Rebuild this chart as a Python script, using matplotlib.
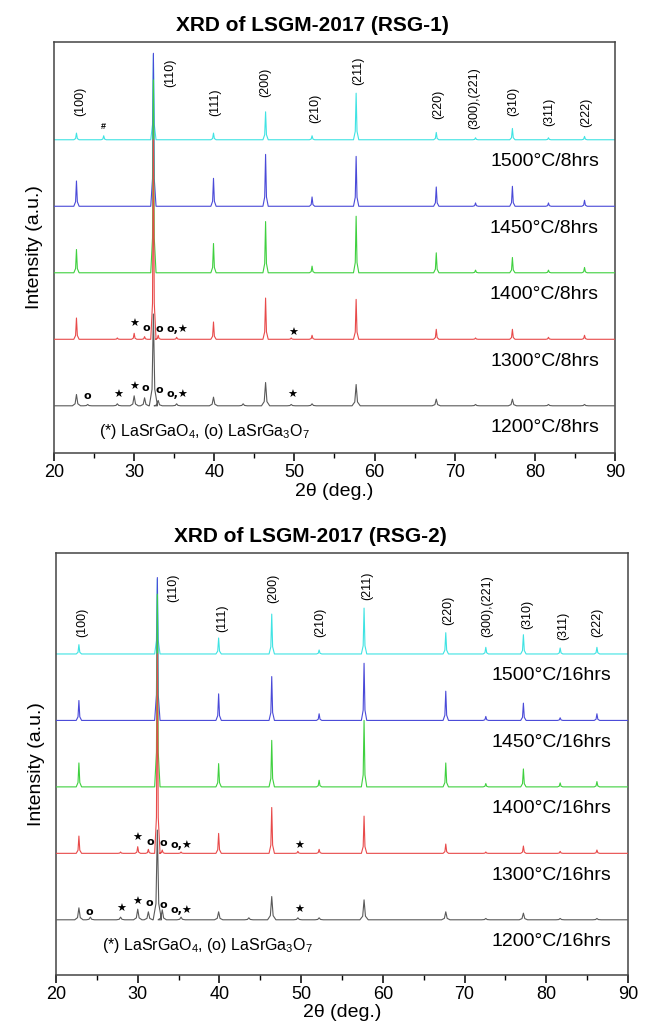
import numpy as np
import matplotlib.pyplot as plt
from matplotlib.ticker import MultipleLocator

plt.rcParams['font.family'] = ['Liberation Sans', 'DejaVu Sans']
plt.rcParams['mathtext.fontset'] = 'custom'
plt.rcParams['mathtext.rm'] = 'Liberation Sans'
plt.rcParams['mathtext.it'] = 'Liberation Sans:italic'

# perovskite reflections, 2theta in degrees
hkl_pos = [22.8, 32.4, 39.9, 46.4, 52.2, 57.7, 67.7, 72.6, 77.2, 81.7, 86.2]
hkl_labels = ['(100)', '(110)', '(111)', '(200)', '(210)', '(211)', '(220)',
              '(300),(221)', '(310)', '(311)', '(222)']

# secondary phase peaks (LaSrGa3O7, #, LaSrGaO4 ...)
imp_pos = [24.2, 26.2, 27.9, 30.0, 31.3, 33.0, 35.3, 43.6, 49.6]

colors = ['#3fe3e3', '#4a4ad8', '#3fd03f', '#e84a4a', '#5a5a5a']

# RSG-1, 8 hrs : peak heights (a.u., 1 = spacing between patterns)
labels_8h = ['1500°C/8hrs', '1450°C/8hrs', '1400°C/8hrs', '1300°C/8hrs', '1200°C/8hrs']
main_1500_8h = [0.10, 1.28, 0.10, 0.42, 0.06, 0.70, 0.11, 0.03, 0.17, 0.03, 0.05]
main_1450_8h = [0.38, 2.30, 0.42, 0.78, 0.14, 0.75, 0.29, 0.05, 0.30, 0.05, 0.09]
main_1400_8h = [0.35, 2.90, 0.44, 0.77, 0.10, 0.85, 0.30, 0.04, 0.23, 0.04, 0.08]
main_1300_8h = [0.32, 3.00, 0.26, 0.62, 0.06, 0.60, 0.15, 0.02, 0.15, 0.03, 0.06]
main_1200_8h = [0.17, 1.38, 0.13, 0.35, 0.03, 0.32, 0.10, 0.02, 0.10, 0.02, 0.02]
imp_1500_8h = [0.00, 0.06, 0.00, 0.00, 0.00, 0.00, 0.00, 0.00, 0.00]
imp_1300_8h = [0.00, 0.00, 0.02, 0.09, 0.04, 0.06, 0.03, 0.00, 0.02]
imp_1200_8h = [0.02, 0.00, 0.03, 0.15, 0.12, 0.08, 0.03, 0.03, 0.02]

# RSG-2, 16 hrs
labels_16h = ['1500°C/16hrs', '1450°C/16hrs', '1400°C/16hrs', '1300°C/16hrs', '1200°C/16hrs']
main_1500_16h = [0.14, 1.13, 0.24, 0.60, 0.06, 0.69, 0.32, 0.10, 0.29, 0.09, 0.10]
main_1450_16h = [0.30, 2.15, 0.40, 0.66, 0.10, 0.86, 0.44, 0.06, 0.26, 0.04, 0.10]
main_1400_16h = [0.36, 2.90, 0.35, 0.70, 0.10, 1.00, 0.36, 0.05, 0.27, 0.06, 0.08]
main_1300_16h = [0.26, 3.00, 0.30, 0.69, 0.06, 0.56, 0.14, 0.02, 0.11, 0.03, 0.05]
main_1200_16h = [0.18, 1.35, 0.12, 0.35, 0.03, 0.30, 0.12, 0.02, 0.10, 0.02, 0.02]
imp_1300_16h = [0.00, 0.00, 0.02, 0.10, 0.06, 0.05, 0.02, 0.00, 0.03]
imp_1200_16h = [0.04, 0.00, 0.04, 0.16, 0.12, 0.15, 0.04, 0.03, 0.03]
zero_imp = [0.0] * len(imp_pos)

# phase markers above the two lowest patterns
mark_gray = ['o', '★', '★', 'o', 'o', 'o,★', '★']
mark_gray_x = [24.1, 28.0, 30.0, 31.4, 33.1, 35.4, 49.75]
mark_gray_y1 = [0.14, 0.17, 0.29, 0.27, 0.23, 0.17, 0.17]
mark_gray_y2 = [0.12, 0.17, 0.27, 0.26, 0.23, 0.15, 0.15]
mark_red = ['★', 'o', 'o', 'o,★', '★']
mark_red_x = [30.0, 31.5, 33.1, 35.4, 49.8]
mark_red_y1 = [0.23, 0.17, 0.15, 0.15, 0.09]
mark_red_y2 = [0.23, 0.17, 0.15, 0.12, 0.11]

# hkl label positions (x in deg, y in pattern units)
hkl_x1 = [23.25, 34.5, 40.1, 46.4, 52.6, 58.0, 68.0, 72.4, 77.25, 81.75, 86.4]
hkl_y1 = [4.57, 5.00, 4.56, 4.86, 4.47, 5.04, 4.53, 4.63, 4.57, 4.42, 4.41]
hkl_x2 = [23.2, 34.3, 40.3, 46.6, 52.3, 58.1, 68.0, 72.75, 77.65, 82.05, 86.3]
hkl_y2 = [4.48, 5.00, 4.54, 4.98, 4.48, 5.02, 4.65, 4.72, 4.60, 4.42, 4.47]


def pattern(main_h, imp_h, w):
    # sharp peaks on a flat baseline
    pos = list(hkl_pos) + list(imp_pos)
    hts = list(main_h) + list(imp_h)
    order = np.argsort(pos)
    xs = [20.0]
    ys = [0.0]
    for i in order:
        p, h = pos[i], hts[i]
        if h <= 0:
            continue
        xs += [p - 3 * w, p - w, p, p + w, p + 3 * w]
        ys += [0.0, 0.18 * h, h, 0.18 * h, 0.0]
    xs.append(90.0)
    ys.append(0.0)
    return np.array(xs), np.array(ys)


def panel(ax, title, title_x, mains, imps, labels, hx, hy, ylim, gy, ry, legend_y):
    for k in range(5):
        off = 4 - k
        w = 0.17 if k == 4 else 0.11
        x, y = pattern(mains[k], imps[k], w)
        ax.plot(x, y + off, color=colors[k], lw=0.8, zorder=2 + k)
        ax.text(88.0, off - 0.33, labels[k], ha='right', va='center', fontsize=14)

    for lab, x, y in zip(hkl_labels, hx, hy):
        ax.text(x, y, lab, rotation=90, ha='center', va='center', fontsize=9)
    if title.endswith('(RSG-1)'):
        ax.text(26.2, 4.2, '#', ha='center', va='center', fontsize=6.5, fontweight='bold')

    for m, x, y in zip(mark_gray, mark_gray_x, gy):
        ax.text(x, y, m, ha='center', va='center', fontsize=8, fontweight='bold',
                family=['DejaVu Sans'])
    for m, x, y in zip(mark_red, mark_red_x, ry):
        ax.text(x, 1 + y, m, ha='center', va='center', fontsize=8, fontweight='bold',
                family=['DejaVu Sans'])

    ax.text(25.6, legend_y, '(*) LaSrGaO$_4$, (o) LaSrGa$_3$O$_7$', ha='left', va='center',
            fontsize=11.5)

    ax.set_xlim(20, 90)
    ax.set_ylim(*ylim)
    ax.xaxis.set_major_locator(MultipleLocator(10))
    ax.xaxis.set_minor_locator(MultipleLocator(5))
    ax.tick_params(axis='x', which='major', direction='out', length=6, width=1.1,
                   labelsize=13, pad=2, top=False)
    ax.tick_params(axis='x', which='minor', direction='out', length=3.5, width=1.0, top=False)
    ax.set_yticks([])
    for s in ax.spines.values():
        s.set_color('#444444')
        s.set_linewidth(1.1)
    ax.set_xlabel('2θ (deg.)', fontsize=14, labelpad=1)
    ax.set_ylabel('Intensity (a.u.)', fontsize=14, labelpad=8)
    ax.set_title(title, x=title_x, fontsize=15, fontweight='bold', pad=8)


fig = plt.figure(figsize=(6.47, 10.24), dpi=100)
ax1 = fig.add_axes([0.0835, 0.5576, 0.867, 0.4014])
ax2 = fig.add_axes([0.0866, 0.0479, 0.884, 0.4121])

panel(ax1, 'XRD of LSGM-2017 (RSG-1)', 0.46,
      [main_1500_8h, main_1450_8h, main_1400_8h, main_1300_8h, main_1200_8h],
      [imp_1500_8h, zero_imp, zero_imp, imp_1300_8h, imp_1200_8h],
      labels_8h, hkl_x1, hkl_y1, (-0.71, 5.47), mark_gray_y1, mark_red_y1, -0.39)
panel(ax2, 'XRD of LSGM-2017 (RSG-2)', 0.444,
      [main_1500_16h, main_1450_16h, main_1400_16h, main_1300_16h, main_1200_16h],
      [zero_imp, zero_imp, zero_imp, imp_1300_16h, imp_1200_16h],
      labels_16h, hkl_x2, hkl_y2, (-0.83, 5.52), mark_gray_y2, mark_red_y2, -0.38)

fig.savefig('out.png', dpi=100)
